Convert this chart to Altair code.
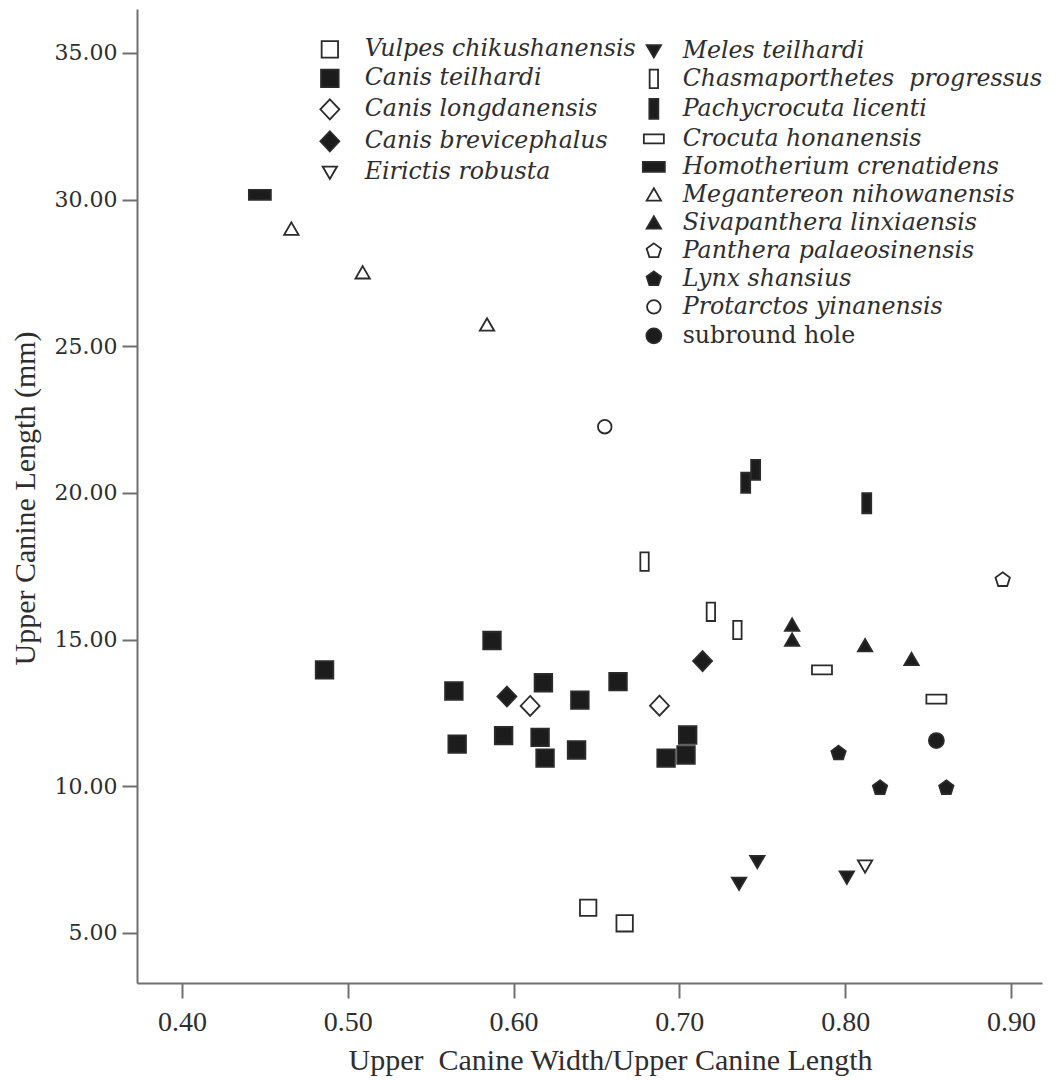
import altair as alt
import pandas as pd

# ---------------- data ----------------
GROUP_A = ["Vulpes chikushanensis", "Canis teilhardi", "Canis longdanensis",
           "Canis brevicephalus", "Eirictis robusta"]
GROUP_B = ["Meles teilhardi", "Chasmaporthetes\u00a0 progressus", "Pachycrocuta licenti",
           "Crocuta honanensis", "Homotherium crenatidens", "Megantereon nihowanensis",
           "Sivapanthera linxiaensis", "Panthera palaeosinensis", "Lynx shansius",
           "Protarctos yinanensis"]
GROUP_C = ["subround hole"]

vulpes_x = [0.645, 0.667]
vulpes_y = [5.86, 5.33]
canis_teil_x = [0.486, 0.587, 0.564, 0.618, 0.640, 0.663, 0.566, 0.594, 0.616, 0.619,
                0.638, 0.705, 0.704, 0.692]
canis_teil_y = [13.97, 14.97, 13.25, 13.53, 12.94, 13.57, 11.44, 11.73, 11.67, 10.96,
                11.24, 11.75, 11.07, 10.96]
canis_long_x = [0.610, 0.688]
canis_long_y = [12.74, 12.75]
canis_brev_x = [0.596, 0.714]
canis_brev_y = [13.06, 14.27]
eirictis_x = [0.812]
eirictis_y = [7.28]
meles_x = [0.747, 0.736, 0.801]
meles_y = [7.43, 6.69, 6.90]
chasma_x = [0.679, 0.719, 0.735]
chasma_y = [17.66, 15.95, 15.33]
pachy_x = [0.746, 0.740, 0.813]
pachy_y = [20.79, 20.35, 19.65]
crocuta_x = [0.786, 0.855]
crocuta_y = [13.97, 12.97]
homo_x = [0.447]
homo_y = [30.16]
megan_x = [0.466, 0.509, 0.584]
megan_y = [29.0, 27.51, 25.73]
siva_x = [0.768, 0.768, 0.812, 0.840]
siva_y = [15.5, 14.99, 14.8, 14.33]
panthera_x = [0.895]
panthera_y = [17.04]
lynx_x = [0.796, 0.821, 0.861]
lynx_y = [11.13, 9.95, 9.95]
protarctos_x = [0.655]
protarctos_y = [22.26]
hole_x = [0.855]
hole_y = [11.56]

X_TICKS = [0.4, 0.5, 0.6, 0.7, 0.8, 0.9]
Y_TICKS = [5, 10, 15, 20, 25, 30, 35]

SERIES = [
    (GROUP_A[0], vulpes_x, vulpes_y),
    (GROUP_A[1], canis_teil_x, canis_teil_y),
    (GROUP_A[2], canis_long_x, canis_long_y),
    (GROUP_A[3], canis_brev_x, canis_brev_y),
    (GROUP_A[4], eirictis_x, eirictis_y),
    (GROUP_B[0], meles_x, meles_y),
    (GROUP_B[1], chasma_x, chasma_y),
    (GROUP_B[2], pachy_x, pachy_y),
    (GROUP_B[3], crocuta_x, crocuta_y),
    (GROUP_B[4], homo_x, homo_y),
    (GROUP_B[5], megan_x, megan_y),
    (GROUP_B[6], siva_x, siva_y),
    (GROUP_B[7], panthera_x, panthera_y),
    (GROUP_B[8], lynx_x, lynx_y),
    (GROUP_B[9], protarctos_x, protarctos_y),
    (GROUP_C[0], hole_x, hole_y),
]

rows = []
for name, xs, ys in SERIES:
    for xv, yv in zip(xs, ys):
        rows.append({"species": name, "x": xv, "y": yv})
df = pd.DataFrame(rows)

# ---------------- marker styles ----------------
BLACK = "#1c1c1c"
WHITE = "#ffffff"
EDGE = "#2b2b2b"
sq_open = "M-0.82,-0.82H0.82V0.82H-0.82Z"
sq_fill = "M-0.88,-0.88H0.88V0.88H-0.88Z"
dia_open = "M0,-1.0L0.95,0L0,1.0L-0.95,0Z"
dia_fill = "M0,-1.0L0.95,0L0,1.0L-0.95,0Z"
tri_down = "M-0.72,-0.58L0.72,-0.58L0,0.66Z"
tri_up = "M0,-0.66L0.72,0.58L-0.72,0.58Z"
rect_tall_open = "M-0.42,-0.92H0.42V0.92H-0.42Z"
rect_tall_fill = "M-0.45,-1.0H0.45V1.0H-0.45Z"
rect_wide_open = "M-1.0,-0.45H1.0V0.45H-1.0Z"
rect_wide_fill = "M-1.1,-0.5H1.1V0.5H-1.1Z"
pent = "M0,-0.75L0.72,-0.22L0.45,0.62L-0.45,0.62L-0.72,-0.22Z"
circ_open = "M-0.68,0A0.68,0.68,0,1,0,0.68,0A0.68,0.68,0,1,0,-0.68,0Z"
circ_fill = "M-0.75,0A0.75,0.75,0,1,0,0.75,0A0.75,0.75,0,1,0,-0.75,0Z"

SHAPES = {
    GROUP_A[0]: sq_open, GROUP_A[1]: sq_fill, GROUP_A[2]: dia_open, GROUP_A[3]: dia_fill,
    GROUP_A[4]: tri_down,
    GROUP_B[0]: tri_down, GROUP_B[1]: rect_tall_open, GROUP_B[2]: rect_tall_fill,
    GROUP_B[3]: rect_wide_open, GROUP_B[4]: rect_wide_fill, GROUP_B[5]: tri_up,
    GROUP_B[6]: tri_up, GROUP_B[7]: pent, GROUP_B[8]: pent, GROUP_B[9]: circ_open,
    GROUP_C[0]: circ_fill,
}
FILLS = {
    GROUP_A[0]: WHITE, GROUP_A[1]: BLACK, GROUP_A[2]: WHITE, GROUP_A[3]: BLACK,
    GROUP_A[4]: WHITE,
    GROUP_B[0]: BLACK, GROUP_B[1]: WHITE, GROUP_B[2]: BLACK, GROUP_B[3]: WHITE,
    GROUP_B[4]: BLACK, GROUP_B[5]: WHITE, GROUP_B[6]: BLACK, GROUP_B[7]: WHITE,
    GROUP_B[8]: BLACK, GROUP_B[9]: WHITE,
    GROUP_C[0]: BLACK,
}

TXT = "#2e2e2e"
AX = "#707070"

xscale = alt.Scale(domain=[0.3729, 0.9187], nice=False, zero=False)
yscale = alt.Scale(domain=[3.295, 36.5], nice=False, zero=False)

xaxis = alt.Axis(values=X_TICKS, format=".2f", grid=False, labelFlush=False,
                 labelFont="Liberation Serif", labelFontSize=28, labelColor=TXT,
                 labelPadding=10, tickSize=15, tickWidth=2, tickColor=AX,
                 domainColor=AX, domainWidth=2,
                 title="Upper\u00a0 Canine Width/Upper Canine Length",
                 titleFont="Liberation Serif", titleFontSize=30, titleFontWeight="normal",
                 titleColor=TXT, titleX=473, titleY=77, titleAlign="center",
                 titleBaseline="middle")
yaxis = alt.Axis(values=Y_TICKS, format=".2f", grid=False, labelFlush=False,
                 labelFont="DejaVu Serif", labelFontSize=22, labelColor=TXT,
                 labelPadding=5, tickSize=15, tickWidth=2, tickColor=AX,
                 domainColor=AX, domainWidth=2,
                 title="Upper Canine Length (mm)",
                 titleFont="Liberation Serif", titleFontSize=30, titleFontWeight="normal",
                 titleColor=TXT, titleX=-112, titleY=489, titleAngle=270,
                 titleAlign="center", titleBaseline="middle")


def make_layer(names, lx, ly, row_pad, style, offset):
    sub = df[df["species"].isin(names)]
    leg = alt.Legend(orient="none", legendX=lx, legendY=ly, title=None,
                     direction="vertical", padding=0,
                     labelFont="DejaVu Serif", labelFontStyle=style, labelFontSize=23.7,
                     labelColor=TXT, labelLimit=0, labelOffset=offset,
                     symbolSize=400, symbolStrokeWidth=1.8,
                     rowPadding=row_pad)
    return alt.Chart(sub).mark_point(filled=True, size=400, opacity=1,
                                     strokeWidth=1.8).encode(
        x=alt.X("x:Q", scale=xscale, axis=xaxis),
        y=alt.Y("y:Q", scale=yscale, axis=yaxis),
        shape=alt.Shape("species:N",
                        scale=alt.Scale(domain=names, range=[SHAPES[n] for n in names]),
                        legend=leg),
        fill=alt.Fill("species:N",
                      scale=alt.Scale(domain=names, range=[FILLS[n] for n in names]),
                      legend=leg),
        stroke=alt.Stroke("species:N",
                          scale=alt.Scale(domain=names, range=[EDGE for n in names]),
                          legend=leg),
    )


layer_a = make_layer(GROUP_A, 181, 28.5, 4.0, "italic", 23)
layer_b = make_layer(GROUP_B, 505, 30.0, 3.0, "italic", 17)
layer_c = make_layer(GROUP_C, 505, 315.0, 0, "normal", 17)

chart = alt.layer(layer_a, layer_b, layer_c).resolve_scale(
    shape="independent", fill="independent", stroke="independent"
).resolve_legend(
    shape="independent", fill="independent", stroke="independent"
).properties(
    width=905, height=974,
    autosize=alt.AutoSizeParams(type="none"),
    padding={"left": 129, "top": 1, "right": 6, "bottom": 94},
    background="white",
).configure_view(stroke=None)

chart.save("out.html", embed_options={"renderer": "svg", "actions": False})
